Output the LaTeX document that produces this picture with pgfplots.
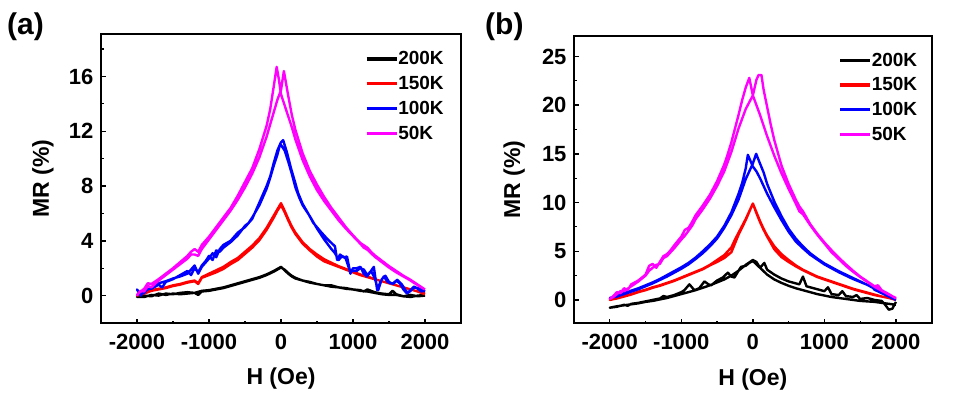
\documentclass[border=0pt]{standalone}
\usepackage{fontspec}
\setmainfont{Liberation Sans}
\usepackage{pgfplots}
\pgfplotsset{compat=1.18}
\definecolor{cA}{RGB}{0,0,0}
\definecolor{cB}{RGB}{255,0,0}
\definecolor{cC}{RGB}{0,0,255}
\definecolor{cD}{RGB}{255,0,255}
\pgfplotsset{
  myaxis/.style={
    scale only axis,
    anchor=south west,
    xmin=-2500, xmax=2500,
    xtick={-2000,-1000,0,1000,2000},
    minor xtick={-1500,-500,500,1500},
    tick pos=left, tick align=inside,
    major tick length=4.5pt, minor tick length=2.5pt,
    major tick style={line width=1.4pt, black},
    minor tick style={line width=1.2pt, black},
    axis line style={line width=2.3pt},
    /pgf/number format/assume math mode=true,
    /pgf/number format/set thousands separator={},
    ticklabel style={font=\fontsize{22}{26}\selectfont\bfseries},
    xticklabel style={anchor=base, yshift=-26pt},
    yticklabel style={anchor=east, xshift=-4pt},
    label style={font=\fontsize{23}{27}\selectfont\bfseries},
    xlabel={H (Oe)},
    ylabel={MR (\%)},
    legend cell align=left,
    legend image code/.code={\draw[##1, line width=3.2pt] (0pt,0pt) -- (30pt,0pt);},
    every axis plot/.append style={line width=2.4pt, line join=round, mark=none},
    clip=true,
  }
}
\begin{document}
\begin{tikzpicture}
\path[use as bounding box] (0pt,0pt) rectangle (957pt,-396pt);
\node[anchor=base west, font=\fontsize{30}{34}\selectfont\bfseries, inner sep=0pt] at (7pt,-35pt) {(a)};
\node[anchor=base west, font=\fontsize{30}{34}\selectfont\bfseries, inner sep=0pt] at (485pt,-35pt) {(b)};

% ---------------- panel (a) ----------------
\begin{axis}[myaxis,
  at={(101pt,-323pt)}, width=360pt, height=289pt,
  ymin=-2, ymax=19.1,
  ytick={0,4,8,12,16}, minor ytick={-2,2,6,10,14,18},
  xlabel style={at={(axis description cs:0.5,-0.2145)}, anchor=base},
  ylabel style={at={(axis description cs:-0.161,0.5)}, anchor=center},
  legend style={at={(axis description cs:0.733,0.94)}, anchor=north west,
    draw=none, fill=none, inner sep=0pt, row sep=10pt,
    font=\fontsize{19}{22}\selectfont\bfseries,
    nodes={inner sep=0pt},
    /tikz/every even column/.append style={column sep=5pt}},
]
% 200K
\addplot[cA] coordinates {(2000,0.0)(1900,-0.05)(1800,0.05)(1700,-0.05)(1600,0.1)(1550,0.35)(1500,0.1)(1400,0.15)(1300,0.25)(1200,0.45)(1150,0.3)(1100,0.4)(1000,0.45)(900,0.55)(800,0.6)(700,0.75)(600,0.75)(500,0.85)(400,1.0)(300,1.1)(200,1.3)(150,1.45)(100,1.65)(50,1.9)(0,2.05)
(-50,1.9)(-100,1.75)(-200,1.5)(-300,1.3)(-400,1.15)(-500,1.0)(-600,0.85)(-700,0.7)(-800,0.55)(-900,0.45)(-1000,0.35)(-1100,0.3)(-1150,0.05)(-1200,0.2)(-1300,0.15)(-1400,0.1)(-1500,0.15)(-1600,0.05)(-1700,0.15)(-1800,-0.05)(-1900,0.0)(-2000,-0.1)
(-1900,-0.1)(-1800,0.05)(-1700,0.0)(-1600,0.15)(-1500,0.1)(-1400,0.2)(-1300,0.25)(-1200,0.2)(-1100,0.35)(-1000,0.4)(-900,0.5)(-800,0.6)(-700,0.75)(-600,0.9)(-500,1.05)(-400,1.2)(-300,1.35)(-200,1.55)(-100,1.8)(0,2.1)
(50,1.85)(100,1.6)(150,1.4)(200,1.25)(300,1.1)(400,0.95)(500,0.85)(600,0.75)(700,0.65)(800,0.6)(900,0.5)(1000,0.45)(1100,0.35)(1200,0.3)(1300,0.2)(1400,0.1)(1500,0.05)(1600,0.05)(1700,-0.05)(1800,-0.1)(1900,0.0)(2000,0.05)};
\addlegendentry{200K}
% 150K
\addplot[cB] coordinates {(2000,0.1)(1900,0.3)(1800,0.45)(1700,0.6)(1600,0.75)(1500,0.9)(1400,1.05)(1300,1.2)(1200,1.35)(1100,1.5)(1000,1.7)(900,1.9)(800,2.1)(700,2.3)(600,2.5)(500,2.85)(400,3.3)(300,3.8)(200,4.5)(150,4.95)(100,5.5)(50,6.1)(0,6.6)
(-50,6.2)(-100,5.7)(-200,4.8)(-300,4.05)(-400,3.5)(-500,3.05)(-600,2.6)(-700,2.3)(-800,1.95)(-900,1.7)(-1000,1.5)(-1100,1.3)(-1150,0.85)(-1200,1.05)(-1300,0.95)(-1400,0.8)(-1500,0.7)(-1600,0.55)(-1700,0.45)(-1800,0.35)(-1900,0.15)(-2000,0.0)
(-1900,0.2)(-1800,0.4)(-1700,0.5)(-1600,0.6)(-1500,0.75)(-1400,0.85)(-1300,1.0)(-1200,1.1)(-1150,0.9)(-1100,1.35)(-1000,1.6)(-900,1.85)(-800,2.1)(-700,2.45)(-600,2.75)(-500,3.2)(-400,3.65)(-300,4.2)(-200,4.95)(-100,5.85)(0,6.75)
(50,6.2)(100,5.6)(150,5.05)(200,4.6)(300,3.9)(400,3.4)(500,3.0)(600,2.65)(700,2.4)(800,2.15)(900,1.95)(1000,1.75)(1100,1.55)(1200,1.4)(1300,1.2)(1400,1.05)(1500,0.9)(1600,0.75)(1700,0.6)(1800,0.45)(1900,0.3)(2000,0.15)};
\addlegendentry{150K}
% 100K
\addplot[cC] coordinates {(2000,0.3)(1950,0.45)(1900,0.55)(1850,0.6)(1800,0.35)(1750,0.15)(1700,0.45)(1650,0.9)(1600,1.1)(1550,0.85)(1500,1.0)(1450,1.45)(1400,1.2)(1350,0.4)(1300,1.3)(1250,1.8)(1200,1.5)(1150,1.9)(1100,2.0)(1050,1.8)(1000,1.8)(950,1.9)(900,2.7)(850,2.9)(800,2.6)(750,3.1)(700,3.4)(600,4.1)(500,4.9)(400,5.8)(300,6.6)(250,7.2)(200,7.9)(150,8.9)(100,9.8)(50,10.6)(0,11.0)(-20,10.9)
(-50,10.3)(-100,9.5)(-150,8.6)(-200,7.8)(-300,6.6)(-400,5.7)(-450,5.3)(-500,5.1)(-600,4.4)(-700,3.9)(-800,3.5)(-850,3.2)(-900,3.3)(-950,2.6)(-1000,2.9)(-1050,2.5)(-1100,2.2)(-1150,1.7)(-1200,2.0)(-1250,1.5)(-1300,1.8)(-1400,1.5)(-1500,1.2)(-1600,1.0)(-1650,0.6)(-1700,0.8)(-1800,0.5)(-1850,0.5)(-1900,0.2)(-1950,0.1)(-2000,0.45)
(-1950,0.0)(-1900,0.35)(-1800,0.55)(-1700,0.9)(-1600,1.05)(-1500,1.25)(-1400,1.4)(-1300,1.6)(-1250,1.9)(-1200,2.2)(-1150,1.6)(-1100,2.1)(-1000,2.7)(-950,3.1)(-900,2.8)(-850,3.4)(-800,3.7)(-700,4.0)(-600,4.6)(-500,5.0)(-400,5.6)(-300,6.8)(-200,8.0)(-150,8.7)(-100,9.7)(-50,10.6)(0,11.2)(30,11.35)
(80,10.5)(144,9.2)(200,8.2)(237,7.5)(300,6.7)(377,6.0)(450,5.3)(563,4.6)(650,4.1)(749,3.6)(780,2.6)(820,3.0)(865,2.8)(917,2.85)(964,1.6)(1000,2.0)(1050,2.0)(1103,2.1)(1150,1.6)(1196,1.4)(1250,1.8)(1289,2.1)(1336,0.4)(1380,1.0)(1428,1.4)(1480,1.0)(1521,0.9)(1570,0.9)(1614,1.15)(1680,0.8)(1754,0.2)(1800,0.4)(1847,0.66)(1900,0.5)(1950,0.3)(2000,0.4)};
\addlegendentry{100K}
% 50K
\addplot[cD] coordinates {(2000,0.45)(1900,0.75)(1800,1.1)(1700,1.4)(1600,1.7)(1500,2.05)(1400,2.45)(1300,2.85)(1250,3.1)(1200,3.35)(1150,3.5)(1100,3.8)(1000,4.35)(900,4.9)(800,5.5)(700,6.2)(600,6.9)(500,7.7)(470,8.0)(400,8.7)(300,9.9)(200,11.4)(150,12.3)(100,13.1)(50,13.9)(0,14.7)(-30,15.8)(-60,16.7)
(-100,15.3)(-150,13.6)(-200,12.4)(-300,10.7)(-400,9.3)(-500,8.3)(-600,7.3)(-700,6.4)(-800,5.7)(-900,5.0)(-1000,4.3)(-1100,3.7)(-1150,3.2)(-1200,3.4)(-1250,3.2)(-1300,2.9)(-1400,2.45)(-1500,2.0)(-1600,1.6)(-1700,1.2)(-1800,0.85)(-1850,0.9)(-1900,0.5)(-1950,0.3)(-2000,0.05)
(-1950,0.35)(-1900,0.3)(-1850,0.7)(-1800,0.6)(-1700,1.1)(-1600,1.5)(-1500,1.9)(-1400,2.3)(-1300,2.7)(-1250,3.0)(-1200,3.0)(-1150,2.9)(-1100,3.4)(-1000,4.1)(-900,4.8)(-800,5.5)(-700,6.2)(-600,7.0)(-500,7.9)(-400,8.9)(-300,10.1)(-200,11.6)(-150,12.5)(-100,13.4)(-50,14.3)(0,15.0)(40,16.4)
(100,14.6)(150,13.2)(200,12.1)(300,10.4)(400,9.1)(450,8.6)(470,8.4)(500,8.1)(600,7.2)(700,6.4)(800,5.7)(900,5.0)(1000,4.4)(1100,3.85)(1200,3.5)(1250,3.2)(1300,2.95)(1400,2.55)(1500,2.15)(1600,1.8)(1700,1.45)(1800,1.15)(1900,0.8)(2000,0.45)};
\addlegendentry{50K}
\end{axis}

% ---------------- panel (b) ----------------
\begin{axis}[myaxis,
  at={(574pt,-323.3pt)}, width=357.7pt, height=287.3pt,
  ymin=-2.4, ymax=27.1,
  ytick={0,5,10,15,20,25}, minor ytick={2.5,7.5,12.5,17.5,22.5},
  xlabel style={at={(axis description cs:0.5,-0.215)}, anchor=base},
  ylabel style={at={(axis description cs:-0.167,0.5)}, anchor=center},
  legend style={at={(axis description cs:0.739,0.942)}, anchor=north west,
    draw=none, fill=none, inner sep=0pt, row sep=10pt,
    font=\fontsize{19}{22}\selectfont\bfseries,
    nodes={inner sep=0pt},
    /tikz/every even column/.append style={column sep=5pt}},
]
% 200K
\addplot[cA] coordinates {(2000,-0.2)(1950,-0.9)(1900,-1.0)(1850,-0.5)(1800,-0.1)(1700,0.0)(1600,0.2)(1500,0.1)(1450,0.5)(1400,0.3)(1300,0.4)(1250,0.9)(1200,0.5)(1100,0.6)(1050,1.3)(1000,0.9)(900,1.1)(750,1.4)(700,2.4)(650,1.6)(600,1.7)(500,1.9)(400,2.2)(300,2.6)(200,3.1)(160,3.8)(100,3.3)(50,3.9)(0,4.1)
(-100,3.6)(-200,3.0)(-300,2.5)(-400,2.1)(-500,1.8)(-600,1.5)(-700,1.25)(-800,1.0)(-900,0.8)(-1000,0.6)(-1100,0.4)(-1200,0.2)(-1300,0.05)(-1400,-0.1)(-1500,-0.2)(-1600,-0.35)(-1700,-0.45)(-1800,-0.55)(-1900,-0.65)(-2000,-0.8)
(-1900,-0.7)(-1800,-0.5)(-1750,-0.6)(-1700,-0.4)(-1600,-0.3)(-1500,-0.15)(-1400,0.0)(-1300,0.15)(-1250,0.4)(-1200,0.3)(-1100,0.5)(-1000,0.8)(-957,1.0)(-887,1.6)(-817,1.0)(-750,1.2)(-677,1.9)(-620,1.6)(-583,1.5)(-500,2.0)(-420,2.3)(-350,2.8)(-300,2.4)(-257,2.3)(-200,3.0)(-164,3.4)(-100,3.5)(-50,3.8)(0,4.0)
(100,3.3)(200,2.6)(300,2.1)(400,1.75)(500,1.45)(600,1.2)(700,1.0)(800,0.8)(900,0.6)(1000,0.45)(1100,0.3)(1200,0.2)(1300,0.1)(1400,0.0)(1500,-0.1)(1600,-0.15)(1700,-0.2)(1800,-0.3)(1900,-0.4)(2000,-0.5)};
\addlegendentry{200K}
% 150K
\addplot[cB] coordinates {(2000,0.0)(1900,0.2)(1800,0.35)(1700,0.5)(1600,0.7)(1500,0.9)(1400,1.1)(1300,1.35)(1200,1.6)(1100,1.85)(1000,2.1)(900,2.35)(800,2.7)(700,3.05)(600,3.45)(500,3.9)(400,4.4)(300,5.2)(200,6.5)(150,7.2)(100,8.0)(50,8.9)(0,9.9)
(-50,9.1)(-100,8.3)(-200,6.9)(-250,6.2)(-300,5.4)(-400,4.6)(-500,4.1)(-600,3.6)(-700,3.2)(-800,2.9)(-900,2.6)(-1000,2.3)(-1100,2.0)(-1200,1.75)(-1300,1.5)(-1400,1.3)(-1500,1.05)(-1600,0.85)(-1700,0.6)(-1800,0.4)(-1900,0.2)(-2000,0.0)
(-1900,0.15)(-1800,0.35)(-1700,0.55)(-1600,0.8)(-1500,1.0)(-1400,1.25)(-1300,1.45)(-1200,1.7)(-1100,1.95)(-1000,2.25)(-900,2.55)(-800,2.85)(-700,3.15)(-600,3.55)(-500,3.9)(-400,4.3)(-300,4.9)(-250,5.8)(-200,6.7)(-100,8.2)(0,9.9)
(50,9.0)(100,8.1)(150,7.3)(200,6.6)(300,5.5)(400,4.7)(500,4.1)(600,3.55)(700,3.1)(800,2.75)(900,2.4)(1000,2.15)(1100,1.9)(1200,1.65)(1300,1.4)(1400,1.15)(1500,0.95)(1600,0.75)(1700,0.55)(1800,0.35)(1900,0.2)(2000,0.05)};
\addlegendentry{150K}
% 100K
\addplot[cC] coordinates {(2000,0.0)(1900,0.35)(1800,0.7)(1700,1.05)(1650,1.5)(1600,1.55)(1500,1.85)(1400,2.15)(1300,2.5)(1200,2.85)(1100,3.25)(1000,3.65)(900,4.15)(800,4.65)(700,5.3)(600,6.0)(500,7.0)(400,8.2)(300,9.5)(200,10.9)(100,12.5)(50,13.2)(0,13.7)(-70,14.9)
(-100,13.5)(-150,12.0)(-200,10.9)(-300,9.0)(-400,7.6)(-500,6.5)(-600,5.7)(-700,5.0)(-800,4.35)(-900,3.8)(-1000,3.35)(-1100,2.95)(-1200,2.55)(-1300,2.15)(-1400,1.8)(-1500,1.5)(-1600,1.2)(-1700,0.95)(-1800,0.7)(-1900,0.4)(-2000,0.2)
(-1900,0.35)(-1800,0.6)(-1700,0.85)(-1600,1.1)(-1500,1.4)(-1400,1.7)(-1300,2.05)(-1200,2.4)(-1100,2.8)(-1000,3.2)(-900,3.65)(-800,4.2)(-700,4.8)(-600,5.5)(-500,6.3)(-400,7.4)(-300,8.7)(-200,10.3)(-100,12.4)(0,14.0)(46,15.0)
(100,14.0)(150,13.1)(200,11.9)(300,10.1)(400,8.6)(500,7.3)(600,6.3)(700,5.5)(800,4.8)(900,4.25)(1000,3.75)(1100,3.35)(1200,2.95)(1300,2.6)(1400,2.25)(1500,1.9)(1600,1.55)(1700,1.15)(1800,0.75)(1900,0.4)(2000,0.0)};
\addlegendentry{100K}
% 50K
\addplot[cD] coordinates {(2000,0.2)(1900,0.55)(1800,0.95)(1700,1.35)(1600,1.85)(1500,2.35)(1400,2.9)(1300,3.5)(1200,4.2)(1100,4.9)(1000,5.8)(900,6.7)(800,7.7)(700,8.8)(650,9.1)(600,9.9)(500,11.4)(400,13.0)(300,14.8)(200,16.8)(150,17.9)(100,19.0)(50,20.0)(0,21.0)(-50,22.8)
(-100,21.8)(-150,20.5)(-200,19.0)(-300,16.2)(-350,15.0)(-400,13.9)(-500,12.2)(-600,10.8)(-700,9.7)(-800,8.7)(-850,8.0)(-900,7.4)(-950,7.2)(-1000,6.5)(-1100,5.6)(-1150,5.1)(-1200,4.7)(-1250,4.5)(-1300,3.9)(-1350,3.3)(-1400,3.7)(-1450,3.5)(-1500,2.6)(-1600,2.0)(-1700,1.6)(-1750,1.0)(-1800,1.2)(-1850,0.7)(-1900,0.8)(-1950,0.4)(-2000,0.1)
(-1950,0.3)(-1900,0.6)(-1850,0.9)(-1800,0.9)(-1700,1.4)(-1600,1.9)(-1500,2.5)(-1450,3.0)(-1400,3.3)(-1350,3.6)(-1300,3.7)(-1250,4.3)(-1200,4.5)(-1100,5.3)(-1000,6.2)(-950,6.6)(-900,7.1)(-850,7.6)(-800,8.3)(-700,9.3)(-600,10.4)(-500,11.7)(-400,13.2)(-300,15.2)(-200,17.6)(-100,19.6)(0,21.0)(50,22.6)(80,23.1)(120,23.1)
(150,21.6)(200,19.8)(250,18.0)(300,16.4)(400,13.8)(500,11.9)(600,10.3)(650,9.6)(680,9.3)(700,9.1)(800,7.8)(900,6.8)(1000,5.9)(1100,5.1)(1200,4.35)(1300,3.65)(1400,3.0)(1500,2.4)(1600,1.9)(1700,1.4)(1750,1.5)(1800,1.0)(1900,0.6)(2000,0.15)};
\addlegendentry{50K}
\end{axis}
\end{tikzpicture}
\end{document}
